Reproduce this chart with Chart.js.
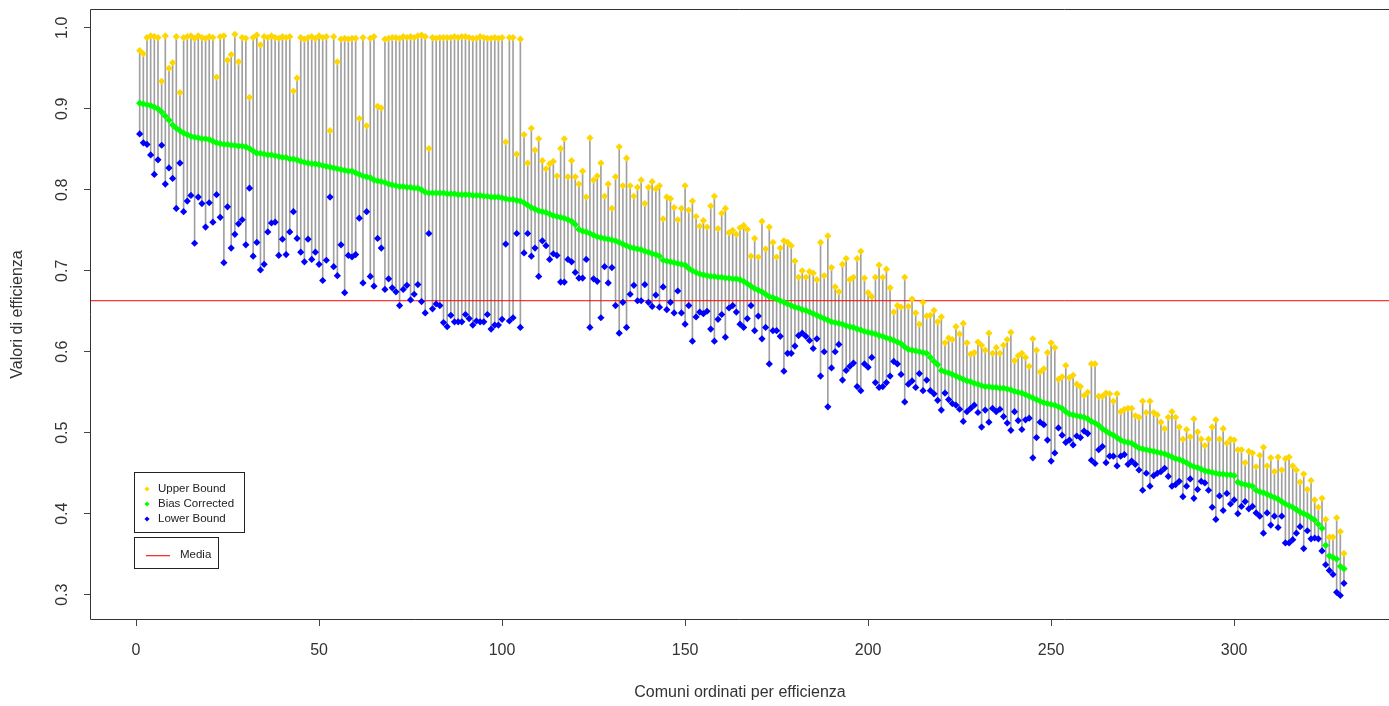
<!DOCTYPE html>
<html>
<head>
<meta charset="utf-8">
<script src="https://cdn.jsdelivr.net/npm/chart.js@4"></script>
<style>
  body { margin: 0; background: #fff; }
  canvas { display: block; }
</style>
</head>
<body>
<canvas id="grafico" width="1389" height="706"></canvas>
<script>
// Limite superiore (Upper Bound), comuni 1..330
const upperBound = [
  0.972, 0.968, 0.988, 0.990, 0.989, 0.988, 0.934, 0.990, 0.950, 0.957,
  0.989, 0.920, 0.988, 0.989, 0.990, 0.987, 0.990, 0.988, 0.987, 0.989,
  0.988, 0.939, 0.989, 0.990, 0.960, 0.967, 0.992, 0.958, 0.988, 0.987,
  0.914, 0.988, 0.991, 0.979, 0.989, 0.988, 0.990, 0.988, 0.987, 0.989,
  0.988, 0.989, 0.922, 0.938, 0.988, 0.986, 0.988, 0.989, 0.987, 0.990,
  0.988, 0.989, 0.873, 0.989, 0.958, 0.986, 0.987, 0.986, 0.987, 0.987,
  0.888, 0.988, 0.879, 0.987, 0.989, 0.903, 0.901, 0.986, 0.987, 0.988,
  0.988, 0.987, 0.989, 0.988, 0.989, 0.988, 0.990, 0.991, 0.989, 0.851,
  0.988, 0.987, 0.988, 0.988, 0.988, 0.988, 0.989, 0.988, 0.989, 0.989,
  0.988, 0.987, 0.987, 0.989, 0.988, 0.987, 0.987, 0.988, 0.987, 0.988,
  0.859, 0.988, 0.988, 0.844, 0.986, 0.868, 0.833, 0.876, 0.849, 0.863,
  0.836, 0.826, 0.832, 0.835, 0.817, 0.851, 0.863, 0.816, 0.836, 0.816,
  0.807, 0.823, 0.791, 0.864, 0.812, 0.817, 0.833, 0.792, 0.807, 0.777,
  0.816, 0.853, 0.805, 0.839, 0.805, 0.792, 0.803, 0.812, 0.783, 0.803,
  0.810, 0.801, 0.805, 0.764, 0.791, 0.789, 0.778, 0.763, 0.777, 0.805,
  0.775, 0.786, 0.767, 0.755, 0.762, 0.754, 0.780, 0.792, 0.752, 0.771,
  0.777, 0.747, 0.750, 0.745, 0.753, 0.756, 0.751, 0.718, 0.740, 0.717,
  0.761, 0.727, 0.754, 0.735, 0.717, 0.728, 0.737, 0.735, 0.731, 0.712,
  0.692, 0.700, 0.692, 0.699, 0.697, 0.689, 0.735, 0.694, 0.743, 0.704,
  0.680, 0.674, 0.708, 0.715, 0.689, 0.692, 0.715, 0.724, 0.691, 0.673,
  0.668, 0.692, 0.707, 0.692, 0.702, 0.679, 0.649, 0.657, 0.655, 0.692,
  0.656, 0.665, 0.648, 0.634, 0.661, 0.644, 0.645, 0.651, 0.637, 0.643,
  0.611, 0.617, 0.615, 0.631, 0.622, 0.635, 0.611, 0.597, 0.599, 0.612,
  0.608, 0.602, 0.623, 0.598, 0.605, 0.598, 0.608, 0.615, 0.624, 0.589,
  0.595, 0.598, 0.593, 0.582, 0.616, 0.602, 0.575, 0.579, 0.599, 0.611,
  0.605, 0.566, 0.569, 0.583, 0.568, 0.571, 0.560, 0.557, 0.546, 0.550,
  0.585, 0.585, 0.545, 0.545, 0.549, 0.548, 0.539, 0.548, 0.526, 0.529,
  0.530, 0.530, 0.521, 0.519, 0.539, 0.525, 0.539, 0.525, 0.522, 0.513,
  0.505, 0.519, 0.526, 0.519, 0.507, 0.492, 0.504, 0.495, 0.517, 0.501,
  0.492, 0.484, 0.492, 0.507, 0.516, 0.492, 0.505, 0.487, 0.492, 0.491,
  0.479, 0.479, 0.463, 0.477, 0.475, 0.458, 0.472, 0.482, 0.459, 0.469,
  0.452, 0.470, 0.454, 0.468, 0.470, 0.459, 0.454, 0.439, 0.449, 0.430,
  0.441, 0.417, 0.408, 0.419, 0.393, 0.371, 0.371, 0.395, 0.378, 0.351
];

// Efficienza corretta (Bias Corrected)
const biasCorrected = [
  0.907, 0.906, 0.905, 0.904, 0.902, 0.900, 0.896, 0.891, 0.886, 0.880,
  0.876, 0.873, 0.870, 0.868, 0.866, 0.865, 0.864, 0.863, 0.863, 0.862,
  0.860, 0.858, 0.857, 0.856, 0.856, 0.855, 0.855, 0.854, 0.854, 0.853,
  0.851, 0.848, 0.845, 0.845, 0.844, 0.843, 0.843, 0.842, 0.841, 0.840,
  0.840, 0.838, 0.838, 0.837, 0.835, 0.834, 0.833, 0.832, 0.832, 0.831,
  0.830, 0.829, 0.828, 0.827, 0.826, 0.825, 0.824, 0.823, 0.823, 0.821,
  0.819, 0.817, 0.816, 0.815, 0.812, 0.811, 0.810, 0.809, 0.807, 0.806,
  0.805, 0.804, 0.804, 0.803, 0.803, 0.802, 0.802, 0.800, 0.797, 0.796,
  0.796, 0.796, 0.796, 0.796, 0.795, 0.795, 0.795, 0.794, 0.794, 0.794,
  0.794, 0.793, 0.793, 0.793, 0.792, 0.792, 0.791, 0.791, 0.791, 0.790,
  0.789, 0.788, 0.788, 0.787, 0.786, 0.784, 0.781, 0.778, 0.776, 0.774,
  0.773, 0.772, 0.770, 0.768, 0.767, 0.766, 0.765, 0.763, 0.761, 0.757,
  0.751, 0.749, 0.748, 0.746, 0.744, 0.742, 0.741, 0.740, 0.739, 0.738,
  0.737, 0.735, 0.733, 0.731, 0.729, 0.728, 0.727, 0.726, 0.724, 0.723,
  0.721, 0.720, 0.718, 0.713, 0.712, 0.711, 0.710, 0.709, 0.708, 0.707,
  0.703, 0.700, 0.698, 0.696, 0.695, 0.694, 0.693, 0.693, 0.692, 0.692,
  0.691, 0.691, 0.690, 0.690, 0.689, 0.687, 0.684, 0.681, 0.678, 0.676,
  0.674, 0.671, 0.668, 0.667, 0.665, 0.663, 0.661, 0.659, 0.657, 0.655,
  0.654, 0.652, 0.651, 0.649, 0.647, 0.645, 0.643, 0.641, 0.639, 0.637,
  0.636, 0.635, 0.634, 0.632, 0.631, 0.630, 0.628, 0.627, 0.625, 0.624,
  0.623, 0.622, 0.620, 0.619, 0.617, 0.616, 0.614, 0.612, 0.610, 0.606,
  0.603, 0.602, 0.601, 0.600, 0.599, 0.598, 0.593, 0.588, 0.584, 0.577,
  0.575, 0.574, 0.572, 0.570, 0.568, 0.566, 0.564, 0.563, 0.561, 0.560,
  0.558, 0.557, 0.557, 0.556, 0.556, 0.555, 0.555, 0.554, 0.553, 0.551,
  0.550, 0.549, 0.547, 0.545, 0.543, 0.541, 0.539, 0.537, 0.536, 0.535,
  0.534, 0.532, 0.530, 0.526, 0.523, 0.522, 0.521, 0.520, 0.519, 0.517,
  0.514, 0.512, 0.509, 0.505, 0.502, 0.499, 0.497, 0.494, 0.491, 0.489,
  0.488, 0.487, 0.484, 0.481, 0.480, 0.479, 0.478, 0.477, 0.476, 0.475,
  0.474, 0.472, 0.470, 0.468, 0.467, 0.465, 0.463, 0.460, 0.458, 0.457,
  0.455, 0.453, 0.452, 0.451, 0.450, 0.449, 0.449, 0.448, 0.448, 0.447,
  0.439, 0.437, 0.436, 0.435, 0.434, 0.429, 0.427, 0.426, 0.424, 0.422,
  0.420, 0.418, 0.415, 0.412, 0.410, 0.408, 0.405, 0.402, 0.400, 0.398,
  0.395, 0.392, 0.387, 0.382, 0.361, 0.348, 0.346, 0.344, 0.335, 0.332
];

// Limite inferiore (Lower Bound)
const lowerBound = [
  0.869, 0.858, 0.856, 0.843, 0.819, 0.837, 0.855, 0.807, 0.827, 0.814,
  0.777, 0.833, 0.773, 0.786, 0.793, 0.734, 0.791, 0.783, 0.754, 0.784,
  0.760, 0.794, 0.766, 0.710, 0.779, 0.728, 0.745, 0.758, 0.763, 0.732,
  0.802, 0.718, 0.735, 0.701, 0.708, 0.748, 0.759, 0.760, 0.719, 0.739,
  0.720, 0.748, 0.773, 0.740, 0.723, 0.711, 0.739, 0.714, 0.723, 0.708,
  0.688, 0.713, 0.791, 0.705, 0.694, 0.732, 0.673, 0.719, 0.717, 0.720,
  0.765, 0.685, 0.773, 0.693, 0.681, 0.740, 0.728, 0.677, 0.690, 0.679,
  0.674, 0.657, 0.677, 0.682, 0.664, 0.671, 0.683, 0.662, 0.648, 0.746,
  0.653, 0.659, 0.657, 0.636, 0.631, 0.645, 0.637, 0.637, 0.637, 0.646,
  0.641, 0.633, 0.638, 0.637, 0.637, 0.646, 0.628, 0.633, 0.633, 0.640,
  0.733, 0.638, 0.642, 0.746, 0.630, 0.722, 0.746, 0.718, 0.728, 0.693,
  0.737, 0.731, 0.714, 0.721, 0.719, 0.686, 0.686, 0.714, 0.711, 0.698,
  0.691, 0.691, 0.714, 0.630, 0.690, 0.687, 0.642, 0.705, 0.685, 0.704,
  0.657, 0.623, 0.661, 0.630, 0.671, 0.682, 0.663, 0.663, 0.683, 0.661,
  0.656, 0.670, 0.655, 0.680, 0.652, 0.661, 0.648, 0.675, 0.648, 0.634,
  0.657, 0.613, 0.643, 0.649, 0.647, 0.650, 0.628, 0.613, 0.640, 0.646,
  0.618, 0.654, 0.657, 0.649, 0.634, 0.630, 0.641, 0.657, 0.626, 0.644,
  0.616, 0.630, 0.585, 0.626, 0.626, 0.619, 0.576, 0.598, 0.598, 0.607,
  0.620, 0.623, 0.619, 0.614, 0.604, 0.616, 0.570, 0.600, 0.532, 0.580,
  0.600, 0.609, 0.565, 0.577, 0.582, 0.586, 0.557, 0.552, 0.585, 0.581,
  0.593, 0.562, 0.556, 0.557, 0.562, 0.570, 0.588, 0.585, 0.572, 0.538,
  0.560, 0.564, 0.556, 0.573, 0.552, 0.565, 0.552, 0.548, 0.540, 0.528,
  0.549, 0.541, 0.536, 0.534, 0.529, 0.514, 0.526, 0.530, 0.534, 0.525,
  0.507, 0.528, 0.513, 0.530, 0.526, 0.529, 0.520, 0.512, 0.503, 0.526,
  0.515, 0.504, 0.516, 0.518, 0.469, 0.494, 0.513, 0.510, 0.491, 0.465,
  0.475, 0.506, 0.497, 0.488, 0.491, 0.485, 0.496, 0.494, 0.502, 0.499,
  0.466, 0.462, 0.479, 0.483, 0.463, 0.471, 0.471, 0.459, 0.471, 0.473,
  0.461, 0.465, 0.461, 0.454, 0.429, 0.450, 0.434, 0.447, 0.450, 0.452,
  0.456, 0.446, 0.434, 0.436, 0.440, 0.421, 0.434, 0.443, 0.419, 0.430,
  0.440, 0.438, 0.429, 0.408, 0.393, 0.422, 0.404, 0.425, 0.412, 0.417,
  0.400, 0.409, 0.415, 0.406, 0.409, 0.401, 0.397, 0.376, 0.401, 0.386,
  0.397, 0.383, 0.397, 0.364, 0.364, 0.368, 0.376, 0.384, 0.357, 0.379,
  0.369, 0.370, 0.369, 0.354, 0.337, 0.330, 0.325, 0.303, 0.299, 0.314
];

const media = 0.663;
const xTicks = [0, 50, 100, 150, 200, 250, 300];
const yTicks = [0.3, 0.4, 0.5, 0.6, 0.7, 0.8, 0.9, 1.0];

// posizione del comune nella graduatoria (1..n)
const comuni = upperBound.map((_, i) => i + 1);

const xMin = -12.3, xMax = 342.3;
const yMin = 0.270, yMax = 1.022;

const toPts = (arr) => comuni.map((c, i) => ({ x: c, y: arr[i] }));

// cornice del grafico + legenda in basso a sinistra
const cornice = {
  id: 'cornice',
  afterDraw(chart) {
    const { ctx, chartArea: a } = chart;
    ctx.save();
    ctx.strokeStyle = '#333';
    ctx.lineWidth = 1;
    ctx.beginPath();
    ctx.moveTo(a.right, a.top - 0.5);
    ctx.lineTo(a.left - 0.5, a.top - 0.5);
    ctx.lineTo(a.left - 0.5, a.bottom + 0.5);
    ctx.lineTo(a.right, a.bottom + 0.5);
    ctx.stroke();

    // legenda
    ctx.strokeStyle = '#222';
    ctx.strokeRect(134.5, 472.5, 110, 60);
    ctx.strokeRect(134.5, 537.5, 84, 31);
    const voci = [
      ['Upper Bound', '#FFD700', 489],
      ['Bias Corrected', '#00FF00', 504],
      ['Lower Bound', '#0000FF', 519]
    ];
    ctx.font = '11.5px "Liberation Sans", Arial, sans-serif';
    ctx.textBaseline = 'middle';
    ctx.textAlign = 'left';
    voci.forEach(([testo, col, y]) => {
      ctx.fillStyle = col;
      ctx.beginPath();
      ctx.moveTo(147, y - 2.6);
      ctx.lineTo(149.6, y);
      ctx.lineTo(147, y + 2.6);
      ctx.lineTo(144.4, y);
      ctx.closePath();
      ctx.fill();
      ctx.fillStyle = '#222';
      ctx.fillText(testo, 158, y);
    });
    ctx.fillStyle = '#FF3030';
    ctx.fillRect(146, 555, 24, 1.3);
    ctx.fillStyle = '#222';
    ctx.fillText('Media', 180, 555);
    ctx.restore();
  }
};

const fontAssi = { family: '"Liberation Sans", Arial, sans-serif', size: 16 };

new Chart(document.getElementById('grafico'), {
  type: 'scatter',
  data: {
    datasets: [
      {
        type: 'bar',
        label: 'Intervallo',
        data: comuni.map((c, i) => ({ x: c, y: [lowerBound[i], upperBound[i]] })),
        backgroundColor: '#a0a0a0',
        borderWidth: 0,
        barThickness: 1,
        order: 5
      },
      {
        type: 'line',
        label: 'Media',
        data: [{ x: xMin, y: media }, { x: xMax, y: media }],
        borderColor: '#FF0000',
        borderWidth: 1,
        pointRadius: 0,
        order: 4
      },
      {
        label: 'Upper Bound',
        data: toPts(upperBound),
        pointStyle: 'rectRot',
        pointRadius: 3.6,
        backgroundColor: '#FFD700',
        borderWidth: 0,
        order: 3
      },
      {
        label: 'Bias Corrected',
        data: toPts(biasCorrected),
        pointStyle: 'rectRot',
        pointRadius: 3.6,
        backgroundColor: '#00FF00',
        borderWidth: 0,
        order: 2
      },
      {
        label: 'Lower Bound',
        data: toPts(lowerBound),
        pointStyle: 'rectRot',
        pointRadius: 3.6,
        backgroundColor: '#0000FF',
        borderWidth: 0,
        order: 1
      }
    ]
  },
  options: {
    responsive: false,
    animation: false,
    events: [],
    devicePixelRatio: 1,
    layout: { autoPadding: false, padding: { left: 0, right: 0, top: 10, bottom: 0 } },
    plugins: {
      legend: { display: false },
      tooltip: { enabled: false }
    },
    scales: {
      x: {
        type: 'linear',
        min: xMin,
        max: xMax,
        offset: false,
        afterBuildTicks: (s) => { s.ticks = xTicks.map(v => ({ value: v })); },
        afterFit: (s) => { s.height = 87; s.paddingLeft = 0; s.paddingRight = 0; },
        grid: { drawOnChartArea: false, offset: false, tickLength: 7, color: '#444' },
        border: { display: false },
        ticks: { font: fontAssi, color: '#333', padding: 15, maxRotation: 0 },
        title: {
          display: true,
          text: 'Comuni ordinati per efficienza',
          font: fontAssi,
          color: '#333',
          padding: { top: 4, bottom: 4 }
        }
      },
      y: {
        type: 'linear',
        min: yMin,
        max: yMax,
        afterBuildTicks: (s) => { s.ticks = yTicks.map(v => ({ value: v })); },
        afterFit: (s) => { s.width = 91; s.paddingTop = 0; s.paddingBottom = 0; },
        grid: { drawOnChartArea: false, tickLength: 7, color: '#444' },
        border: { display: false },
        ticks: {
          font: fontAssi,
          color: '#333',
          padding: 10,
          minRotation: 90,
          maxRotation: 90,
          crossAlign: 'center',
          callback: (v) => v.toFixed(1)
        },
        title: {
          display: true,
          text: 'Valori di efficienza',
          font: fontAssi,
          color: '#333',
          padding: { top: 8, bottom: 4 }
        }
      }
    }
  },
  plugins: [cornice]
});
</script>
</body>
</html>
